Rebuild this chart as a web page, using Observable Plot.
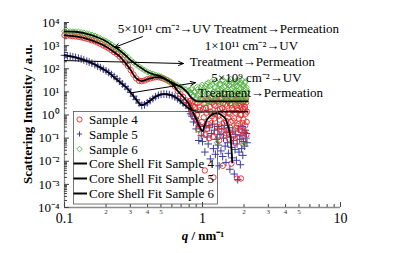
<!DOCTYPE html>
<html><head><meta charset="utf-8">
<script src="https://cdn.jsdelivr.net/npm/d3@7"></script>
<script src="https://cdn.jsdelivr.net/npm/@observablehq/plot@0.6"></script>
<style>html,body{margin:0;padding:0;background:#fff;}</style>
</head><body><div id="chart"></div>
<script>
// ---------- data ----------
const qSmooth = [0.100,0.105,0.110,0.115,0.120,0.126,0.132,0.138,0.145,0.151,0.158,0.166,0.174,0.182,0.191,0.200,0.209,0.219,0.229,0.240,0.251,0.263,0.275,0.288,0.302,0.316,0.331,0.347,0.363,0.380,0.398,0.417,0.437,0.457,0.479,0.501,0.525,0.550,0.575,0.603,0.631,0.661,0.692,0.724,0.759,0.794];
const sample4Smooth = [2820,2750,2690,2570,2510,2400,2290,2140,2000,1860,1700,1550,1350,1200,1020,890,760,630,525,437,339,251,186,132,87,56,38,30,29,31,35,38,41,43,43,41,37,33,28,23,17,11,7.9,6.0,4.3,3.2];
const sample5Smooth = [380,363,347,331,309,288,263,240,214,195,174,151,129,112,95,81,69,56,46,37,29,22,17,13.2,9.3,6.5,4.6,3.3,2.6,2.75,3.4,4.2,5.1,6.2,7.1,7.8,8.1,7.9,7.6,6.9,6.0,5.0,4.2,3.3,2.6,2.0];
const sample6Smooth = [4170,4170,4070,3980,3980,3890,3720,3550,3310,3090,2880,2630,2290,2040,1780,1550,1320,1100,912,759,617,490,389,309,234,186,151,123,102,87,74,65,59,54,50,45,39,33,28,25,21,19,16,14,12.6,11.2];

const qNoisy = [0.80,0.82,0.84,0.86,0.88,0.90,0.92,0.94,0.96,0.98,1.00,1.02,1.04,1.06,1.08,1.10,1.12,1.14,1.16,1.18,1.20,1.22,1.24,1.26,1.28,1.30,1.32,1.34,1.36,1.38,1.40,1.42,1.44,1.46,1.48,1.50,1.52,1.54,1.56,1.58,1.60,1.62,1.64,1.66,1.68,1.70,1.72,1.74,1.76,1.78,1.80,1.82,1.84,1.86,1.88,1.90,1.92,1.94,1.96,1.98,2.00,2.02,2.04,2.06,2.08,2.10];
const sample4Noisy = [2.8,2.0,3.5,1.26,2.2,0.63,3.2,0.35,1.6,0.16,4.5,0.79,0.004,2.0,0.25,5.0,0.10,1.4,0.45,3.5,0.002,0.71,2.5,0.18,4.0,0.89,0.079,1.8,0.32,5.6,0.0063,1.1,0.13,2.8,0.56,4.5,0.22,1.26,0.089,3.2,0.5,0.0079,2.0,0.14,5.0,0.71,0.063,2.5,0.28,0.0018,1.6,0.4,4.0,0.11,1.0,0.0018,2.2,0.2,3.5,0.63,0.071,1.8,0.35,5.0,0.14,1.4];
const sample5Noisy = [1.41,1.12,0.89,0.5,0.71,0.25,0.45,0.079,0.32,0.126,0.071,0.2,0.025,0.35,0.112,0.056,0.28,0.0126,0.158,0.4,0.035,0.22,0.02,0.089,0.32,0.05,0.0063,0.141,0.028,0.25,0.016,0.1,0.35,0.045,0.0089,0.178,0.063,0.022,0.28,0.0045,0.112,0.04,0.014,0.2,0.079,0.0028,0.032,0.141,0.011,0.056,0.0016,0.25,0.025,0.089,0.0071,0.126,0.035,0.32,0.018,0.071,0.178,0.045,0.22,0.1,0.158,0.063];
const sample6Noisy = [11.2,8.9,14.1,7.1,10,5.6,12.6,0.22,7.9,15.8,5.0,11.2,3.5,17.8,7.1,25,4.5,12.6,6.3,20,4.0,10,28,5.6,0.063,14.1,7.1,22,3.5,11.2,32,5.0,15.8,7.9,25,4.0,12.6,6.3,20,8.9,35,4.5,14.1,7.1,22,3.5,11.2,28,5.6,17.8,7.9,32,4.5,12.6,6.3,25,4.0,10,20,0.05,14.1,5.0,28,7.1,15.8,8.9];

const qNoisy2 = [0.81,0.83,0.85,0.87,0.89,0.91,0.93,0.95,0.97,0.99,1.01,1.03,1.05,1.07,1.09,1.11,1.13,1.15,1.17,1.19,1.21,1.23,1.25,1.27,1.29,1.31,1.33,1.35,1.37,1.39,1.41,1.43,1.45,1.47,1.49,1.51,1.53,1.55,1.57,1.59,1.61,1.63,1.65,1.67,1.69,1.71,1.73,1.75,1.77,1.79,1.81,1.83,1.85,1.87,1.89,1.91,1.93,1.95,1.97,1.99,2.01,2.03,2.05,2.07,2.09];
const sample4Noisy2 = [4.0,1.6,2.5,0.79,3.5,1.0,0.25,2.2,5.0,0.5,1.8,3.2,0.14,1.26,4.0,0.4,2.2,5.6,0.89,0.112,2.8,1.12,4.5,0.32,1.6,3.5,0.63,5.0,0.2,2.0,3.2,0.45,1.4,5.6,0.16,2.5,0.79,4.0,1.12,0.28,2.8,5.0,0.56,1.6,0.126,3.5,1.26,4.5,0.35,2.0,5.6,0.71,2.5,0.22,3.2,1.0,5.0,0.45,1.8,4.0,0.178,2.2,1.12,3.5,0.5];
const sample6Noisy2 = [8.9,12.6,6.3,10,4.5,15.8,7.1,11.2,4.0,20,7.9,14.1,5.0,22,8.9,3.5,17.8,6.3,28,10,4.5,15.8,7.9,25,4.0,11.2,20,5.6,14.1,7.1,32,8.9,3.5,17.8,6.3,22,10,4.5,28,5.0,12.6,7.9,25,4.0,15.8,7.1,20,8.9,3.5,28,11.2,5.6,22,7.9,14.1,4.5,32,10,5.0,17.8,7.1,25,4.0,12.6,6.3];

const fit4Q = [0.1,0.12,0.15,0.18,0.2,0.23,0.25,0.28,0.3,0.33,0.36,0.4,0.45,0.5,0.55,0.6,0.66,0.72,0.79,0.86,0.92,0.967,1.0,1.042,1.087,1.181,1.284,1.373,1.468,1.543,1.595,1.641];
const fit4I = [2800,2510,1880,1230,890,515,350,158,93,39,29,35,42,41,33,23,11,6.3,3.2,1.2,0.5,0.26,0.2,0.4,0.68,1.07,1.17,1.0,0.68,0.28,0.107,0.0089];
const fit5Q = [0.1,0.12,0.15,0.18,0.2,0.23,0.25,0.28,0.3,0.33,0.36,0.4,0.45,0.5,0.55,0.6,0.66,0.72,0.79,0.86,0.93,1.0,1.5,2.12];
const fit5I = [380,309,200,117,81,42,27.5,15.5,9.8,4.7,2.7,3.5,5.9,7.8,7.9,7.1,5.0,3.2,2.0,1.5,1.41,1.41,1.41,1.41];
const fit6Q = [0.1,0.12,0.15,0.18,0.2,0.23,0.25,0.28,0.3,0.33,0.36,0.4,0.45,0.5,0.55,0.6,0.66,0.72,0.77,0.83,0.9,1.0,1.2,1.5,1.8,2.12];
const fit6I = [4170,3980,3090,2090,1550,870,630,355,240,155,107,72,55,46,33,25,19,14.5,10,5.6,4.0,3.9,3.9,3.9,3.9,3.9];

const annoTexts = ["5×10¹¹ cm⁻²→UV Treatment→Permeation","1×10¹¹ cm⁻²→UV","Treatment→Permeation","5×10⁹ cm⁻²→UV","Treatment→Permeation"];
const annoQ = [1.54,2.26,2.30,2.46,2.63];
const annoI = [5500,1000,205,42,9.3];

const arrowFromQ = [0.367,0.1,0.311];
const arrowFromI = [2450,226,9.3];
const arrowToQ = [0.230,0.728,0.889];
const arrowToI = [835,168,25];

const yMajor = [1e-4,1e-3,1e-2,1e-1,1,10,100,1000,10000];
const xMajor = [0.1,1,10];
const xMajorLabels = ["0.1","1","10"];
const mult = [2,3,4,5,6,7,8,9];
const xMinor = [0.1,1].flatMap(d => mult.map(m => m*d));
const yMinor = yMajor.slice(0,-1).flatMap(d => mult.map(m => m*d));
const legendLabels = ["Sample 4","Sample 5","Sample 6","Core Shell Fit Sample 4","Core Shell Fit Sample 5","Core Shell Fit Sample 6"];

// ---------- styling ----------
const serif = "'Liberation Serif','Times New Roman',Times,serif";
const RED = "#e52a2a", BLUE = "#3d3d9e", GREEN = "#56b345";
const supDigits = {"0":"⁰","1":"¹","2":"²","3":"³","4":"⁴","5":"⁵","6":"⁶","7":"⁷","8":"⁸","9":"⁹","-":"⁻"};
const sup = d => "10" + String(Math.round(Math.log10(d))).split("").map(c => supDigits[c]).join("");

const W = 408, H = 253, mL = 64, mR = 68, mT = 22, mB = 46;
const fw = W - mL - mR, fh = H - mT - mB;

const q4 = qSmooth.concat(qNoisy, qNoisy2), i4 = sample4Smooth.concat(sample4Noisy, sample4Noisy2);
const q5 = qSmooth.concat(qNoisy), i5 = sample5Smooth.concat(sample5Noisy);
const q6 = qSmooth.concat(qNoisy, qNoisy2), i6 = sample6Smooth.concat(sample6Noisy, sample6Noisy2);

const chart = Plot.plot({
  width: W, height: H,
  marginLeft: mL, marginRight: mR, marginTop: mT, marginBottom: mB,
  x: {type: "log", domain: [0.1, 10]},
  y: {type: "log", domain: [1e-4, 1e4]},
  style: {fontFamily: serif, background: "#fff", color: "#000", overflow: "visible"},
  marks: [
    Plot.ruleX([0.1], {stroke: "#8a8a8a", strokeWidth: 1.3}),
    Plot.ruleY([1e-4], {stroke: "#8a8a8a", strokeWidth: 1.3}),
    Plot.tickY(yMajor, {y: d => d, insetRight: fw - 5, stroke: "#444"}),
    Plot.tickY(yMinor, {y: d => d, insetRight: fw - 3, stroke: "#444"}),
    Plot.tickX(xMajor, {x: d => d, insetTop: fh - 5, stroke: "#444"}),
    Plot.tickX(xMinor, {x: d => d, insetTop: fh - 3, stroke: "#444"}),
    Plot.axisY({ticks: yMajor, tickSize: 0, tickPadding: 5, tickFormat: sup, fontSize: 13, label: null}),
    Plot.axisX({ticks: xMajor, tickSize: 0, tickPadding: 5.5, tickFormat: d => xMajorLabels[xMajor.indexOf(d)], fontSize: 14, label: null}),
    Plot.axisX({ticks: xMinor, tickSize: 0, tickPadding: 1.5, tickFormat: d => String(Math.round(d / 10 ** Math.floor(Math.log10(d) + 1e-9))), fontSize: 7, label: null, fill: "#333"}),
    Plot.dot({length: q5.length}, {x: q5, y: i5, symbol: "plus", r: 2.6, stroke: BLUE, strokeWidth: 1}),
    Plot.dot({length: q4.length}, {x: q4, y: i4, symbol: "circle", r: 2.7, stroke: RED, strokeWidth: 0.9, fill: "none"}),
    Plot.dot({length: q6.length}, {x: q6, y: i6, symbol: "diamond2", r: 2.7, stroke: GREEN, strokeWidth: 0.9, fill: "none"}),
    Plot.line({length: fit4Q.length}, {x: fit4Q, y: fit4I, stroke: "#000", strokeWidth: 1.8, curve: "catmull-rom"}),
    Plot.line({length: fit5Q.length}, {x: fit5Q, y: fit5I, stroke: "#000", strokeWidth: 1.8, curve: "catmull-rom"}),
    Plot.line({length: fit6Q.length}, {x: fit6Q, y: fit6I, stroke: "#000", strokeWidth: 1.8, curve: "catmull-rom"}),
    Plot.arrow({length: arrowFromQ.length}, {x1: arrowFromQ, y1: arrowFromI, x2: arrowToQ, y2: arrowToI, stroke: "#000", strokeWidth: 1, headLength: 8, headAngle: 45}),
    Plot.text({length: annoTexts.length}, {x: annoQ, y: annoI, text: annoTexts, fontSize: 13, fill: "#000", textAnchor: "middle"})
  ]
});
document.getElementById("chart").appendChild(chart);

// ---------- axis titles & legend ----------
const svg = d3.select(chart);
svg.append("text")
  .attr("transform", "translate(27,114) rotate(-90)")
  .attr("text-anchor", "middle").attr("dy", "0.35em")
  .attr("font-family", serif).attr("font-weight", "bold").attr("font-size", 13)
  .text("Scattering Intensity / a.u.");
const xl = svg.append("text")
  .attr("x", 203).attr("y", 235).attr("dy", "0.35em")
  .attr("text-anchor", "middle")
  .attr("font-family", serif).attr("font-weight", "bold").attr("font-size", 13);
xl.append("tspan").attr("font-style", "italic").text("q");
xl.append("tspan").text(" / nm⁻¹");

const lg = svg.append("g").attr("font-family", serif).attr("font-size", 13).attr("text-anchor", "start");
lg.append("rect").attr("x", 73.5).attr("y", 111.5).attr("width", 144).attr("height", 92.5)
  .attr("fill", "none").attr("stroke", "#555").attr("stroke-width", 0.8);
const rowY = [119.5, 134, 149, 163.5, 178.5, 193.5];
legendLabels.forEach((t, i) => {
  const y = rowY[i];
  if (i === 0) lg.append("circle").attr("cx", 79.5).attr("cy", y).attr("r", 2.6).attr("fill", "none").attr("stroke", RED).attr("stroke-width", 0.9);
  if (i === 1) lg.append("path").attr("d", `M76.9,${y}h5.2M79.5,${y-2.6}v5.2`).attr("stroke", BLUE).attr("stroke-width", 1);
  if (i === 2) lg.append("path").attr("d", `M79.5,${y-2.8}l2.8,2.8l-2.8,2.8l-2.8,-2.8z`).attr("fill", "none").attr("stroke", GREEN).attr("stroke-width", 0.9);
  if (i >= 3) lg.append("line").attr("x1", 73.5).attr("x2", 87).attr("y1", y).attr("y2", y).attr("stroke", "#000").attr("stroke-width", 2);
  lg.append("text").attr("x", 89).attr("y", y).attr("dy", "0.35em").attr("text-anchor", "start").attr("fill", "#000").text(t);
});
</script></body></html>
